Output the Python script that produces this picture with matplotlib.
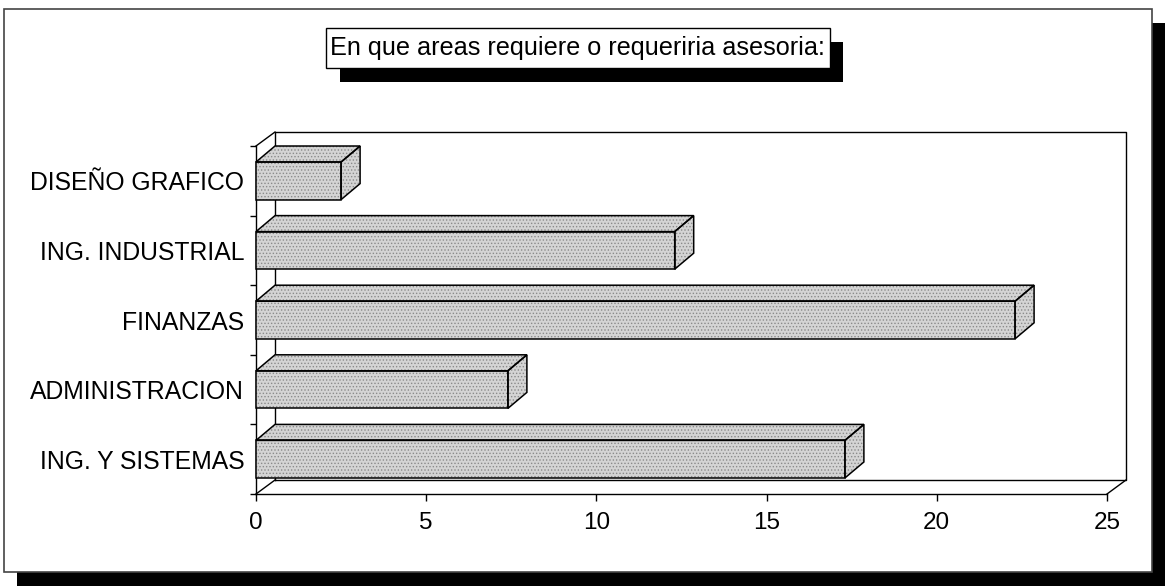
import matplotlib
matplotlib.use('Agg')
import matplotlib.pyplot as plt
from matplotlib.patches import Rectangle, Polygon

plt.rcParams['font.family'] = ['Liberation Sans', 'DejaVu Sans']
plt.rcParams['hatch.linewidth'] = 0.6

# areas de asesoria, de abajo hacia arriba
categorias = ['ING. Y SISTEMAS', 'ADMINISTRACION', 'FINANZAS', 'ING. INDUSTRIAL', 'DISEÑO GRAFICO']
valores = [17.3, 7.4, 22.3, 12.3, 2.5]
ticks_x = [0, 5, 10, 15, 20, 25]
titulo = 'En que areas requiere o requeriria asesoria:'

W, H = 1165, 586
fig = plt.figure(figsize=(W / 100, H / 100), dpi=100)

# fondo en pixeles: marco del grafico y caja del titulo con sombra
bg = fig.add_axes([0, 0, 1, 1])
bg.set_xlim(0, W)
bg.set_ylim(H, 0)
bg.axis('off')
bg.add_patch(Rectangle((17, 23), W - 17, H - 23, facecolor='black', edgecolor='none'))
bg.add_patch(Rectangle((4, 9), 1148, 563, facecolor='white', edgecolor='#444444', lw=1.2))
bg.add_patch(Rectangle((340, 42), 503, 40, facecolor='black', edgecolor='none'))
bg.add_patch(Rectangle((326, 28), 504, 40, facecolor='white', edgecolor='black', lw=1.0))
bg.text(330, 48, titulo, ha='left', va='center', fontsize=18.2)

# ejes frontales del grafico 3D
x0, x1, ytop, ybot = 256, 1107, 146, 494
ax = fig.add_axes([x0 / W, 1 - ybot / H, (x1 - x0) / W, (ybot - ytop) / H])
ax.set_xlim(0, 25)
ax.set_ylim(-0.5, 4.5)
ax.patch.set_alpha(0)
for s in ['top', 'right']:
    ax.spines[s].set_visible(False)
ax.spines['left'].set_linewidth(1.0)
ax.spines['bottom'].set_linewidth(1.0)

ppx = (x1 - x0) / 25.0
ppy = (ybot - ytop) / 5.0
dxw, dyw = 19 / ppx, 14 / ppy   # profundidad de paredes
dxb, dyb = 19 / ppx, 16 / ppy   # profundidad de barras

lk = dict(color='black', lw=1.0, clip_on=False, zorder=1)
# pared del fondo y piso
ax.plot([dxw, dxw, 25 + dxw, 25 + dxw, dxw], [-0.5 + dyw, 4.5 + dyw, 4.5 + dyw, -0.5 + dyw, -0.5 + dyw], **lk)
ax.plot([0, dxw], [4.5, 4.5 + dyw], **lk)
ax.plot([0, dxw], [-0.5, -0.5 + dyw], **lk)
ax.plot([25, 25 + dxw], [-0.5, -0.5 + dyw], **lk)

# barras 3D
h = 0.54
for i, v in enumerate(valores):
    yb, yt = i - h / 2, i + h / 2
    caras = [
        [(0, yb), (v, yb), (v, yt), (0, yt)],
        [(0, yt), (v, yt), (v + dxb, yt + dyb), (dxb, yt + dyb)],
        [(v, yb), (v + dxb, yb + dyb), (v + dxb, yt + dyb), (v, yt)],
    ]
    for c in caras:
        ax.add_patch(Polygon(c, closed=True, facecolor='#d4d4d4', edgecolor='#8a8a8a',
                             hatch='.....', lw=0, clip_on=False, zorder=3))
        ax.add_patch(Polygon(c, closed=True, facecolor='none', edgecolor='black',
                             lw=1.1, clip_on=False, zorder=4))

ax.set_xticks(ticks_x)
ax.set_xticklabels([str(t) for t in ticks_x])
ax.tick_params(axis='x', direction='out', length=5, width=1, labelsize=17.5, pad=8)
ax.set_yticks([k - 0.5 for k in range(6)])
ax.set_yticklabels([])
ax.set_yticks(range(5), minor=True)
ax.set_yticklabels(categorias, minor=True)
ax.tick_params(axis='y', which='major', direction='out', length=4, width=1)
ax.tick_params(axis='y', which='minor', length=0, labelsize=17.8, pad=8.5)

fig.savefig('out.png', dpi=100)
